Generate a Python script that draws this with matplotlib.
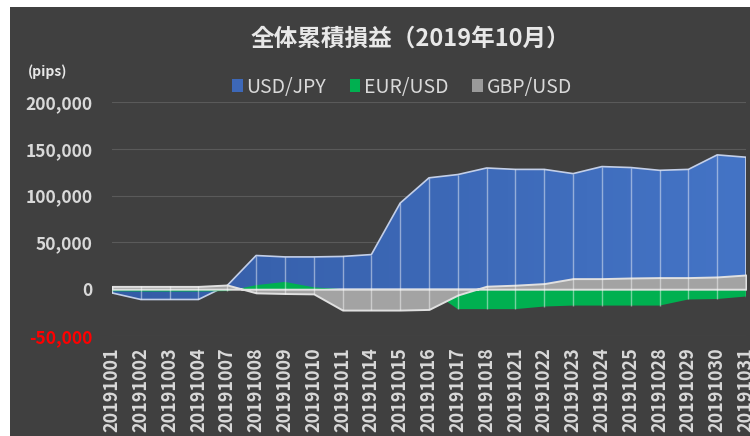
import numpy as np
import matplotlib
matplotlib.use("Agg")
import matplotlib.pyplot as plt
from matplotlib.patches import Rectangle, Patch
from matplotlib.colors import LinearSegmentedColormap

plt.rcParams['font.family'] = ['Noto Sans CJK JP', 'DejaVu Sans']

dates = ['20191001', '20191002', '20191003', '20191004', '20191007', '20191008',
         '20191009', '20191010', '20191011', '20191014', '20191015', '20191016',
         '20191017', '20191018', '20191021', '20191022', '20191023', '20191024',
         '20191025', '20191028', '20191029', '20191030', '20191031']

usd_jpy = [-4000, -11000, -11000, -11000, 4000, 36000, 34500, 34500, 35000, 37000,
           92000, 119000, 122500, 129500, 128000, 128000, 123500, 131000, 130000,
           127000, 128000, 143500, 141000]
eur_usd = [-2200, -2500, -2500, -2500, -2000, 4300, 7800, 2000, 0, 0,
           0, 0, -21300, -21300, -21300, -18500, -17500, -17500, -17500,
           -17500, -11000, -10500, -7800]
gbp_usd = [3000, 3000, 3000, 3000, 4500, -3900, -4600, -5000, -22300, -22300,
           -22300, -21600, -6200, 3200, 4300, 6000, 11300, 11300, 12000,
           12400, 12400, 13100, 15200]

series_names = ['USD/JPY', 'EUR/USD', 'GBP/USD']
yticks = [-50000, 0, 50000, 100000, 150000, 200000]

W, H = 750, 436
fig = plt.figure(figsize=(W / 100, H / 100), dpi=100, facecolor='white')
# dark chart area (white strip top / left like the screenshot)
fig.patches.append(Rectangle((10 / W, 0), 1 - 10 / W, 1 - 7 / H, transform=fig.transFigure,
                             facecolor='#404040', edgecolor='none', zorder=-10))

ax = fig.add_axes([112 / W, (H - 336) / H, (746 - 112) / W, (336 - 102) / H])
ax.patch.set_alpha(0)

x = np.arange(len(dates))
usd = np.array(usd_jpy)
eur = np.array(eur_usd)
gbp = np.array(gbp_usd)

# USD/JPY with horizontal gradient
blue = ax.fill_between(x, 0, usd, facecolor='none', edgecolor='#c3cfe8', linewidth=1.2, zorder=2)
cmap = LinearSegmentedColormap.from_list('b', ['#345ca6', '#4474c6'])
grad = np.linspace(0, 1, 256).reshape(1, -1)
im = ax.imshow(grad, cmap=cmap, aspect='auto', extent=[0, len(dates) - 1, -50000, 200000],
               zorder=1.5)
im.set_clip_path(blue.get_paths()[0], transform=ax.transData)

ax.fill_between(x, 0, eur, facecolor='#00b050', edgecolor='none', zorder=3)
ax.fill_between(x, 0, gbp, facecolor='#a3a3a3', edgecolor='#e0e0e0', linewidth=1.4, zorder=4)

lo = np.minimum(np.minimum(usd, eur), np.minimum(gbp, 0))
hi = np.maximum(np.maximum(usd, eur), np.maximum(gbp, 0))
ax.vlines(x, lo, hi, color='white', alpha=0.45, linewidth=1, zorder=5)

ax.set_xlim(0, len(dates) - 1)
ax.set_ylim(-50000, 200000)
ax.set_yticks(yticks)
ax.set_yticklabels([f'{v:,}' for v in yticks])
ax.set_xticks(x)
ax.set_xticklabels(dates, rotation=90, va='top', ha='center')
ax.yaxis.grid(True, color='#5a5a5a', linewidth=0.8)
ax.set_axisbelow(True)
for s in ax.spines.values():
    s.set_visible(False)
ax.tick_params(axis='y', length=0, pad=14, labelsize=12.5, labelcolor='#d9d9d9')
ax.tick_params(axis='x', length=0, pad=8, labelsize=13, labelcolor='#d9d9d9')
for lab in ax.get_yticklabels() + ax.get_xticklabels():
    lab.set_fontweight('bold')
for lab, v in zip(ax.get_yticklabels(), yticks):
    if v < 0:
        lab.set_color('#ff0000')

fig.text(410 / W, 1 - 39 / H, '全体累積損益（2019年10月）', ha='center', va='center',
         fontsize=17, fontweight='bold', color='#e8e8e8')
fig.text(28 / W, 1 - 72 / H, '(pips)', ha='left', va='center', fontsize=10,
         fontweight='bold', color='#e8e8e8')

handles = [Patch(facecolor='#3d68b8'), Patch(facecolor='#00b050'), Patch(facecolor='#9a9a9a')]
fig.legend(handles, series_names, loc='center', bbox_to_anchor=(402 / W, 1 - 87 / H), ncol=3,
           frameon=False, fontsize=14, labelcolor='#d9d9d9', handlelength=0.55,
           handleheight=0.6, handletextpad=0.2, columnspacing=1.2)

fig.savefig('out.png', dpi=100, facecolor='white')
